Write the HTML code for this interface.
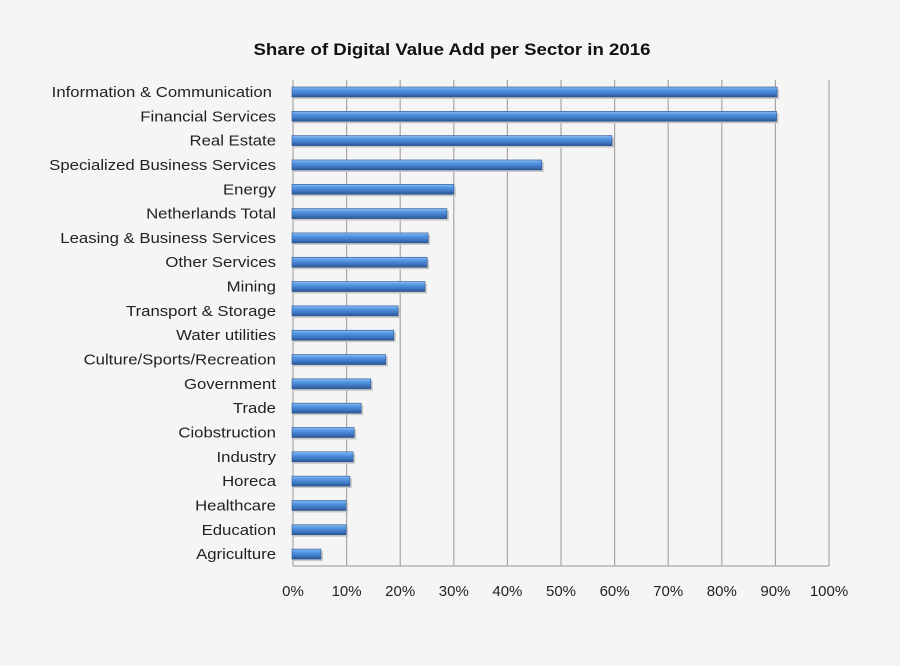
<!DOCTYPE html>
<html><head><meta charset="utf-8"><style>
html,body{margin:0;padding:0;background:#f5f5f5;}
svg{display:block;font-family:"Liberation Sans",Arial,sans-serif;}
</style></head><body>
<svg width="900" height="666" viewBox="0 0 900 666">
<defs>
<linearGradient id="g" x1="0" y1="0" x2="0" y2="1">
<stop offset="0" stop-color="#8cbcf2"/>
<stop offset="0.3" stop-color="#5598e4"/>
<stop offset="0.7" stop-color="#3d76c2"/>
<stop offset="1" stop-color="#2b5590"/>
</linearGradient>
</defs>
<rect width="900" height="666" fill="#f5f5f5"/>
<text x="452" y="55" text-anchor="middle" font-size="17" font-weight="bold" fill="#111" textLength="397" lengthAdjust="spacingAndGlyphs">Share of Digital Value Add per Sector in 2016</text>
<g stroke="#a6a6a6" stroke-width="1.2">
<line x1="293" y1="80" x2="293" y2="566"/>
<line x1="346.6" y1="80" x2="346.6" y2="566"/>
<line x1="400.2" y1="80" x2="400.2" y2="566"/>
<line x1="453.8" y1="80" x2="453.8" y2="566"/>
<line x1="507.4" y1="80" x2="507.4" y2="566"/>
<line x1="561" y1="80" x2="561" y2="566"/>
<line x1="614.6" y1="80" x2="614.6" y2="566"/>
<line x1="668.2" y1="80" x2="668.2" y2="566"/>
<line x1="721.8" y1="80" x2="721.8" y2="566"/>
<line x1="775.4" y1="80" x2="775.4" y2="566"/>
<line x1="829" y1="80" x2="829" y2="566"/>
<line x1="293" y1="566" x2="829" y2="566"/>
</g>
<g id="bars"></g>
<g id="labels" font-size="15" fill="#222" text-anchor="end"></g>
<g font-size="15" fill="#222" text-anchor="middle">
<text x="293" y="596">0%</text><text x="346.6" y="596">10%</text><text x="400.2" y="596">20%</text><text x="453.8" y="596">30%</text><text x="507.4" y="596">40%</text><text x="561" y="596">50%</text><text x="614.6" y="596">60%</text><text x="668.2" y="596">70%</text><text x="721.8" y="596">80%</text><text x="775.4" y="596">90%</text><text x="829" y="596">100%</text>
</g>
<script>
var d=[["Information & Communication",90.5],["Financial Services",90.4],["Real Estate",59.7],["Specialized Business Services",46.6],["Energy",30.2],["Netherlands Total",28.9],["Leasing & Business Services",25.4],["Other Services",25.2],["Mining",24.8],["Transport & Storage",19.8],["Water utilities",19.0],["Culture/Sports/Recreation",17.5],["Government",14.7],["Trade",12.9],["Ciobstruction",11.6],["Industry",11.4],["Horeca",10.8],["Healthcare",10.1],["Education",10.1],["Agriculture",5.4]];
var ns="http://www.w3.org/2000/svg",B=document.getElementById("bars"),L=document.getElementById("labels");
d.forEach(function(r,i){var c=92+i*24.32,w=r[1]*5.36;
var s=document.createElementNS(ns,"rect");s.setAttribute("x",294);s.setAttribute("y",c-3);s.setAttribute("width",w);s.setAttribute("height",10);s.setAttribute("fill","#c8c8c8");B.appendChild(s);
var b=document.createElementNS(ns,"rect");b.setAttribute("x",292);b.setAttribute("y",c-5);b.setAttribute("width",w);b.setAttribute("height",10);b.setAttribute("fill","url(#g)");b.setAttribute("stroke","#2b5590");b.setAttribute("stroke-width","0.6");B.appendChild(b);
var t=document.createElementNS(ns,"text");t.setAttribute("x",i==0?272:276);t.setAttribute("y",c+5);t.textContent=r[0];L.appendChild(t);
var len=t.getComputedTextLength();t.setAttribute("textLength",(len*1.115).toFixed(1));t.setAttribute("lengthAdjust","spacingAndGlyphs");});
</script>
</svg>
</body></html>
